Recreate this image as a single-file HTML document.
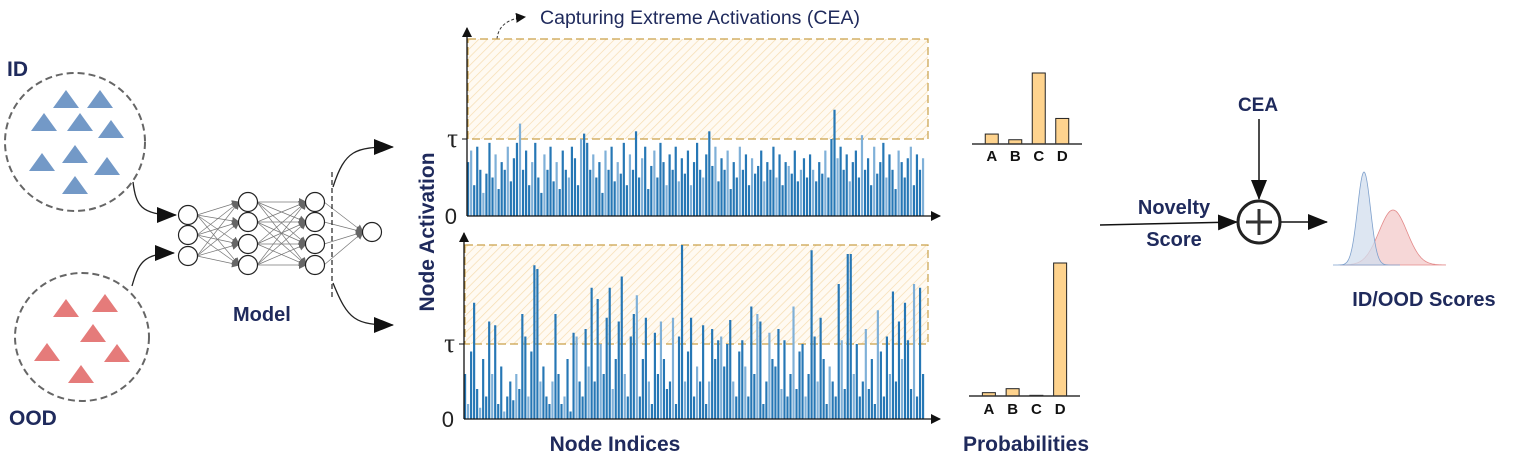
<!DOCTYPE html>
<html><head><meta charset="utf-8"><style>
html,body{margin:0;padding:0;background:#fff;}
svg{display:block;font-family:"Liberation Sans",Arial,sans-serif;}
.nv{fill:#1f2a5c;font-weight:bold;}
</style></head><body>
<svg id="fig" width="1517" height="461" viewBox="0 0 1517 461">
<defs>
<pattern id="hatch" width="6" height="6" patternUnits="userSpaceOnUse" patternTransform="rotate(45)">
<rect width="6" height="6" fill="#fffaf2"/><line x1="0" y1="0" x2="0" y2="6" stroke="#f6dcb0" stroke-width="1.4"/></pattern>
<marker id="ah" markerWidth="10" markerHeight="10" refX="9" refY="5" orient="auto" markerUnits="userSpaceOnUse"><path d="M0,0 L10,5 L0,10 z" fill="#111"/></marker>
<marker id="ahB" markerWidth="20" markerHeight="16" refX="19" refY="8" orient="auto" markerUnits="userSpaceOnUse"><path d="M0,0 L20,8 L0,16 z" fill="#111"/></marker>
<marker id="ahs" markerWidth="8" markerHeight="8" refX="7" refY="4" orient="auto" markerUnits="userSpaceOnUse"><path d="M0,0 L8,4 L0,8 z" fill="#666"/></marker>
</defs>

<text x="7" y="76" class="nv" font-size="21">ID</text>
<ellipse cx="75" cy="142" rx="70" ry="69" fill="none" stroke="#666" stroke-width="2" stroke-dasharray="7,4"/>
<g id="idtri" fill="#7399c7"></g>
<ellipse cx="82" cy="337" rx="67" ry="64" fill="none" stroke="#666" stroke-width="2" stroke-dasharray="7,4"/>
<g id="oodtri" fill="#e57b7a"></g>
<text x="9" y="425" class="nv" font-size="21">OOD</text>
<path d="M133,182 C136,205 140,215 176,215" fill="none" stroke="#222" stroke-width="1.3" marker-end="url(#ahB)"/>
<path d="M132,286 C138,265 142,253 174,253" fill="none" stroke="#222" stroke-width="1.3" marker-end="url(#ahB)"/>
<g id="nn"></g>
<line x1="332" y1="172" x2="332" y2="297" stroke="#222" stroke-width="1.2" stroke-dasharray="5,3"/>
<path d="M333,187 C345,150 355,147 393,147" fill="none" stroke="#222" stroke-width="1.3" marker-end="url(#ahB)"/>
<path d="M333,283 C348,320 355,325 393,325" fill="none" stroke="#222" stroke-width="1.3" marker-end="url(#ahB)"/>
<text x="233" y="321" class="nv" font-size="20">Model</text>

<text x="540" y="24" fill="#1f2a5c" font-size="19" textLength="320" lengthAdjust="spacingAndGlyphs" font-family="Liberation Sans Narrow,Liberation Sans,sans-serif">Capturing Extreme Activations (CEA)</text>
<path d="M497,39 C498,28 505,19 525,17" fill="none" stroke="#333" stroke-width="1" stroke-dasharray="3,2" marker-end="url(#ah)"/>
<text transform="translate(434,232) rotate(-90)" text-anchor="middle" class="nv" font-size="21">Node Activation</text>
<text x="615" y="451" text-anchor="middle" class="nv" font-size="21">Node Indices</text>
<g id="chartTop"></g>
<g id="chartBot"></g>

<g id="probTop"></g>
<g id="probBot"></g>
<text x="963" y="451" class="nv" font-size="21">Probabilities</text>

<text x="1174" y="214" text-anchor="middle" class="nv" font-size="20">Novelty</text>
<text x="1174" y="246" text-anchor="middle" class="nv" font-size="20">Score</text>
<line x1="1100" y1="225" x2="1237" y2="222" stroke="#111" stroke-width="1.5" marker-end="url(#ahB)"/>
<text x="1258" y="111" text-anchor="middle" class="nv" font-size="19" font-weight="normal">CEA</text>
<line x1="1259" y1="119" x2="1259" y2="199" stroke="#111" stroke-width="1.5" marker-end="url(#ahB)"/>
<circle cx="1259" cy="222" r="21" fill="#fff" stroke="#222" stroke-width="3"/>
<path d="M1246,222 H1272 M1259,209 V235" stroke="#333" stroke-width="3"/>
<line x1="1281" y1="222" x2="1327" y2="222" stroke="#111" stroke-width="1.5" marker-end="url(#ahB)"/>
<path id="redd" fill="#f5d0d0" fill-opacity="0.85" stroke="#e38a8a" stroke-width="0.8"/>
<path id="blued" fill="#d2deee" fill-opacity="0.75" stroke="#7ea0cc" stroke-width="0.8"/>
<text x="1424" y="306" text-anchor="middle" class="nv" font-size="20">ID/OOD Scores</text>
</svg>
<script>
const topActs=[0.7,0.85,0.4,0.9,0.6,0.3,0.55,0.95,0.5,0.8,0.35,0.7,0.6,0.9,0.45,0.75,0.95,1.2,0.6,0.85,0.4,0.7,0.95,0.5,0.3,0.8,0.6,0.9,0.45,0.7,0.35,0.85,0.6,0.5,0.9,0.75,0.4,1.0,1.07,0.95,0.6,0.8,0.5,0.7,0.3,0.85,0.6,0.9,0.45,0.7,0.55,0.95,0.4,0.8,0.6,1.1,0.5,0.75,0.9,0.35,0.65,0.85,0.5,0.95,0.7,0.4,0.8,0.6,0.9,0.45,0.75,0.55,0.85,0.4,0.7,0.95,0.6,0.5,0.8,1.1,0.65,0.9,0.45,0.75,0.6,0.85,0.35,0.7,0.5,0.9,0.6,0.8,0.4,0.75,0.55,0.65,0.85,0.45,0.7,0.6,0.9,0.5,0.8,0.4,0.7,0.65,0.55,0.85,0.45,0.6,0.75,0.5,0.8,0.6,0.45,0.7,0.55,0.85,0.5,1.0,1.38,0.75,0.9,0.6,0.8,0.45,0.7,0.85,0.5,1.05,0.6,0.75,0.4,0.9,0.55,0.7,0.95,0.5,0.8,0.6,0.35,0.85,0.7,0.5,0.75,0.9,0.4,0.8,0.6,0.75];
const botActs=[0.6,0.2,0.9,1.55,0.4,0.15,0.8,0.3,1.3,0.6,1.25,0.2,0.7,0.1,0.3,0.5,0.25,0.6,0.4,1.4,1.1,0.3,0.9,2.05,2.0,0.5,0.7,0.3,0.2,0.5,1.4,0.6,0.2,0.3,0.8,0.1,1.15,1.1,0.5,0.3,1.2,0.7,1.75,0.5,1.6,1.0,0.6,1.35,1.75,0.4,0.8,1.3,1.9,0.6,0.3,1.1,1.4,1.65,0.3,0.8,1.35,0.5,0.2,1.15,0.6,1.3,0.8,0.4,0.5,1.35,0.2,1.1,2.32,0.5,0.9,1.35,0.3,0.7,0.5,1.25,0.2,0.5,1.2,0.8,1.05,1.1,0.7,1.0,1.32,0.5,0.3,0.9,1.05,0.7,0.3,1.5,0.6,1.4,1.3,0.2,0.5,1.15,0.8,0.7,1.2,0.4,1.05,0.3,0.6,1.5,0.4,0.9,1.0,0.3,0.6,2.25,1.1,0.5,1.35,0.8,0.2,0.7,0.5,0.3,1.8,1.05,0.4,2.2,2.2,0.6,1.0,0.3,0.5,1.2,0.4,0.8,0.2,1.45,0.9,0.3,1.1,0.6,1.7,0.5,1.3,0.8,1.55,1.05,0.4,1.8,0.3,1.75,0.6];
const probCats=["A","B","C","D"];
const probTopVals=[0.14,0.06,1.0,0.36];
const probBotVals=[0.025,0.055,0.005,1.0];
const tauLabels=["τ","0"];

const NS="http://www.w3.org/2000/svg";
function mk(tag,attrs,parent){const e=document.createElementNS(NS,tag);for(const k in attrs)e.setAttribute(k,attrs[k]);parent.appendChild(e);return e;}

const idT=[[66,99],[100,99],[44,122],[80,122],[111,129],[42,162],[75,154],[107,166],[75,185]];
const oodT=[[66,308],[105,303],[93,333],[47,352],[117,353],[81,374]];
function tri(g,list){for(const [cx,cy] of list){const p=mk('polygon',{points:`${cx-13},${cy+9} ${cx},${cy-9} ${cx+13},${cy+9}`},g);

}}
tri(document.getElementById('idtri'),idT);tri(document.getElementById('oodtri'),oodT);

const nn=document.getElementById('nn');
const L=[[188,[215,235,256]],[248,[202,222,244,265]],[315,[202,222,244,265]],[372,[232]]];
for(let i=0;i<3;i++){for(const y1 of L[i][1])for(const y2 of L[i+1][1]){mk('line',{x1:L[i][0]+9,y1:y1,x2:L[i+1][0]-9,y2:y2,stroke:'#777','stroke-width':0.7,'marker-end':'url(#ahs)'},nn);}}
for(const [x,ys] of L)for(const y of ys){const c=mk('circle',{cx:x,cy:y,r:9.5,fill:'#fff',stroke:'#222','stroke-width':1.2},nn);

}

function actChart(gid,vals,x0,x1,base,tauY,boxTop,axTop){
  const g=document.getElementById(gid);
  const unit=base-tauY;
  const yS=v=>base-v*unit;
  const step=(x1-x0)/vals.length;
  const xS=i=>x0+i*step;
  const box=mk('rect',{x:x0+1,y:boxTop,width:x1-x0+2,height:tauY-boxTop,fill:'url(#hatch)',stroke:'#c9a049','stroke-width':1.2,'stroke-dasharray':'8,4'},g);
  
  
  vals.forEach((v,i)=>{const r=mk('rect',{x:xS(i),y:yS(v),width:step*0.72,height:base-yS(v),fill:(i%4===1?'#7fb0d8':'#2677b5')},g);
    
    });
  mk('line',{x1:x0,y1:base,x2:x1+15,y2:base,stroke:'#111','stroke-width':1.3,'marker-end':'url(#ah)'},g);
  mk('line',{x1:x0,y1:base,x2:x0,y2:axTop,stroke:'#111','stroke-width':1.3,'marker-end':'url(#ah)'},g);
  mk('line',{x1:x0-5,y1:tauY,x2:x0,y2:tauY,stroke:'#111'},g);
  const t1=mk('text',{x:x0-9,y:tauY+8,'text-anchor':'end','font-size':27,fill:'#222','font-family':'Liberation Serif,serif'},g);t1.textContent=tauLabels[0];
  
  
  const t0=mk('text',{x:x0-10,y:base+8,'text-anchor':'end','font-size':22,fill:'#222'},g);t0.textContent=tauLabels[1];
  
  
}
actChart('chartTop',topActs,467,925,216,139,39,28);
actChart('chartBot',botActs,464,925,419,344,245,233);

function probChart(gid,vals,x0,x1,base,maxH,labY){
  const g=document.getElementById(gid);
  const step=(x1-x0)/vals.length;
  vals.forEach((v,i)=>{const h=v*maxH;const r=mk('rect',{x:x0+i*step+(step-13)/2,y:base-h,width:13,height:h,fill:'#fed38e',stroke:'#222','stroke-width':1},g);
    
    
    const t=mk('text',{x:x0+i*step+step/2,y:labY,'text-anchor':'middle','font-size':15,'font-weight':'bold',fill:'#111'},g);t.textContent=probCats[i];
    
    });
  mk('line',{x1:x0-8,y1:base,x2:x1+8,y2:base,stroke:'#333','stroke-width':1.5},g);
}
probChart('probTop',probTopVals,980,1074,144,71,161);
probChart('probBot',probBotVals,977,1072,396,133,414);

function gauss(mu,sd,amp,x0,x1,base){let d=`M${x0},${base}`;for(let x=x0;x<=x1;x+=1){d+=` L${x},${(base-amp*Math.exp(-0.5*((x-mu)/sd)**2)).toFixed(1)}`;}return d+` L${x1},${base} Z`;}
document.getElementById('redd').setAttribute('d',gauss(1393,14,55,1340,1446,265));
document.getElementById('blued').setAttribute('d',gauss(1364,6.5,93,1333,1400,265));
</script>
</body></html>
